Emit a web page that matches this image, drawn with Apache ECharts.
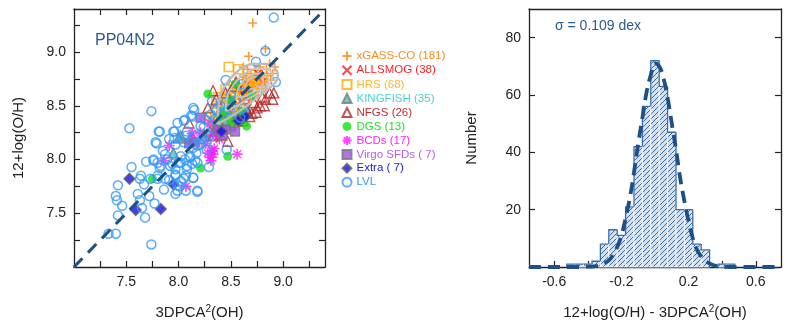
<!DOCTYPE html>
<html>
<head>
<meta charset="utf-8">
<script src="https://cdn.jsdelivr.net/npm/echarts@6/dist/echarts.min.js"></script>
<style>
  html, body { margin: 0; padding: 0; background: #fff; }
  #chart { width: 789px; height: 331px; }
</style>
</head>
<body>
<div id="chart"></div>
<script>
// ---- left panel: PP04N2 vs 3DPCA^2 ----
var xGass = [[8.71,9.27],[8.83,9.03],[8.67,8.96],[8.87,8.89],[8.62,8.86],[8.78,8.86],
  [8.72,8.72],[8.70,8.75],[8.75,8.70],[8.68,8.68],[8.78,8.76],[8.65,8.72],[8.80,8.80],[8.74,8.78],
  [8.66,8.62],[8.60,8.64],[8.58,8.58],[8.62,8.55],[8.55,8.62],[8.52,8.52],[8.50,8.58],[8.48,8.47],
  [8.45,8.52],[8.43,8.42],[8.40,8.45],[8.47,8.40],[8.55,8.48],[8.63,8.68],[8.69,8.80],[8.82,8.72],
  [8.85,8.78],[8.76,8.66],[8.70,8.62],[8.64,8.76],[8.58,8.70],[8.52,8.66],[8.84,8.84],[8.90,8.80],
  [8.88,8.74],[8.80,8.68],[8.73,8.83],[8.60,8.52],[8.68,8.58],[8.56,8.44],[8.50,8.38],[8.42,8.36],
  [8.38,8.40],[8.46,8.60],[8.66,8.84],[8.92,8.86],[8.75,8.60],[8.83,8.66],[8.62,8.78],[8.54,8.72]];
var allsmog = [[8.55,8.50],[8.62,8.60],[8.70,8.58],[8.48,8.42],[8.66,8.70],[8.74,8.68],[8.58,8.66],
  [8.52,8.56],[8.44,8.46],[8.80,8.72],[8.60,8.54],[8.68,8.64],[8.76,8.80],[8.40,8.40],[8.64,8.50]];
var hrs = [[8.48,8.86],[8.57,8.84],[8.35,8.45],[8.38,8.38],[8.42,8.50],[8.45,8.38],[8.40,8.30],
  [8.48,8.55],[8.52,8.45],[8.55,8.40],[8.60,8.48],[8.44,8.58],[8.36,8.52],[8.50,8.30],[8.58,8.60],
  [8.62,8.65],[8.65,8.55],[8.70,8.65],[8.75,8.75],[8.45,8.65],[8.30,8.40],[8.33,8.35],[8.38,8.58],
  [8.55,8.35],[8.68,8.72],[8.80,8.75],[8.72,8.70],[8.66,8.74],[8.42,8.44],[8.52,8.60],[8.47,8.34]];
var kingfish = [[8.02,8.22],[7.95,8.06],[8.11,8.20],[8.00,8.20],[8.14,8.19],[8.45,8.35],[8.55,8.40],
  [8.60,8.42],[8.50,8.32],[8.35,8.30],[8.42,8.28],[8.58,8.36],[8.48,8.44],[8.38,8.36],[8.65,8.46],
  [8.30,8.26],[8.25,8.22]];
var nfgs = [[8.91,8.62],[8.82,8.50],[8.75,8.48],[8.33,8.64],[8.10,8.34],[8.87,8.62],[8.78,8.50],
  [8.70,8.43],[8.33,8.22],[8.40,8.23],[8.47,8.17],[8.52,8.68],[8.72,8.53],[8.83,8.56],[8.60,8.43],
  [8.68,8.40],[8.65,8.47],[8.58,8.38],[8.80,8.58],[8.28,8.48],[8.36,8.56],[8.90,8.56],[8.45,8.62],
  [8.55,8.72],[8.62,8.36],[8.74,8.44]];
var dgs = [[8.28,8.61],[8.65,8.31],[8.47,8.03],[8.21,7.92],[7.75,7.82],[8.45,8.45],[8.50,8.55],
  [8.60,8.45],[8.35,8.30],[8.55,8.70],[8.40,8.40],[8.70,8.60],[8.50,8.35]];
var bcds = [[7.91,8.13],[7.86,7.99],[8.07,7.75],[8.56,8.05],[8.32,8.08],[8.30,8.02],[8.33,8.05],
  [8.28,8.06],[8.31,7.99],[8.34,8.10],[8.21,8.25],[8.33,8.23],[8.30,8.34],[8.39,8.19],[8.26,8.15],
  [8.36,8.28],[8.13,8.24]];
var virgo = [[8.21,8.39],[8.37,8.27],[8.45,8.28],[8.54,8.26],[8.10,8.15],[8.16,8.16],[8.42,8.22]];
var extra = [[7.53,7.82],[7.59,7.53],[7.83,7.54],[7.95,7.77],[8.41,8.26],[8.64,8.40],[8.57,8.36]];
var lvl = [[8.91,9.32],[8.83,9.01],[8.74,8.91],[8.93,8.72],[7.74,8.45],[7.53,8.29],[8.15,8.46],
  [8.32,8.54],[8.31,8.42],[8.45,8.74],[7.82,8.26],[7.96,8.26],[7.99,8.34],[8.06,8.37],[8.12,8.41],
  [8.07,8.22],[7.96,8.20],[7.79,8.15],[7.85,8.08],[8.16,8.22],[8.21,8.31],[8.27,8.17],[8.18,8.13],
  [8.27,8.09],[8.46,8.09],[8.29,7.93],[7.69,7.98],[7.76,7.99],[7.80,7.97],[7.82,7.92],[7.89,8.00],
  [7.94,7.96],[7.97,7.91],[8.02,7.97],[8.06,8.00],[8.11,8.02],[8.13,7.96],[8.08,7.91],[8.18,7.97],
  [7.55,7.93],[7.64,7.85],[7.63,7.82],[7.73,7.82],[7.80,7.82],[7.91,7.81],[7.97,7.86],[8.02,7.80],
  [8.07,7.85],[8.14,7.83],[8.01,7.75],[7.97,7.68],[7.99,7.71],[8.18,7.70],[7.86,7.72],[7.67,7.77],
  [7.42,7.76],[7.61,7.68],[7.72,7.66],[7.40,7.66],[7.41,7.62],[7.46,7.57],[7.63,7.62],[7.77,7.59],
  [7.65,7.55],[7.68,7.46],[7.42,7.48],[7.33,7.31],[7.40,7.31],[7.74,7.21],[7.81,8.26],[7.78,8.16],
  [8.05,8.36],[8.13,8.40],[8.14,8.48],[7.95,8.26],[8.08,8.26],[7.91,8.19],[7.97,8.14],[8.05,8.16],
  [8.14,8.11],[8.21,8.14],[8.23,8.19],[8.29,8.22],[7.87,8.05],[8.02,8.03],[8.11,8.03],[8.17,8.06],
  [7.76,8.00],[7.83,7.94],[7.92,7.94],[8.00,7.97],[8.08,7.94],[8.16,7.99],[7.80,7.85],[7.87,7.82],
  [7.97,7.85],[8.05,7.82],[8.14,7.83],[7.99,7.76],[8.07,7.71],[8.18,7.71],[8.41,8.43],[8.49,8.46],
  [8.59,8.39],[8.62,8.48],[8.45,8.53],[8.50,8.60],[8.40,8.50],[8.55,8.55],[8.65,8.60],[8.36,8.46],
  [8.60,8.70],[8.24,8.30],[8.26,8.37],[8.35,8.38]];
var oneToOne = [[7.0,7.0],[9.4,9.4]];
var contour1 = [[8.37,8.33],[8.38,8.47],[8.40,8.60],[8.46,8.71],[8.53,8.79],[8.62,8.86],[8.72,8.89],
  [8.84,8.89],[8.93,8.84],[8.95,8.77],[8.91,8.70],[8.82,8.63],[8.72,8.55],[8.61,8.47],[8.50,8.40],[8.37,8.33]];
var contour2 = [[8.45,8.45],[8.47,8.60],[8.53,8.70],[8.62,8.79],[8.73,8.84],[8.84,8.84],[8.90,8.78],
  [8.87,8.70],[8.78,8.63],[8.66,8.56],[8.54,8.49],[8.45,8.45]];
var contour3 = [[8.55,8.58],[8.58,8.68],[8.65,8.76],[8.75,8.80],[8.84,8.79],[8.86,8.73],[8.80,8.67],
  [8.70,8.62],[8.60,8.58],[8.55,8.58]];
var contour4 = [[8.63,8.67],[8.67,8.74],[8.74,8.77],[8.81,8.76],[8.81,8.71],[8.74,8.67],[8.66,8.65],[8.63,8.67]];
var contour5 = [[8.68,8.70],[8.72,8.74],[8.77,8.74],[8.77,8.71],[8.72,8.69],[8.68,8.70]];
var ohTicks = [7.25,7.5,7.75,8.0,8.25,8.5,8.75,9.0,9.25];
var ohLabels = [7.5,8.0,8.5,9.0];

// ---- right panel: residual histogram ----
var binWidth = 0.05;
var histCenters = [-0.5,-0.45,-0.4,-0.35,-0.3,-0.25,-0.2,-0.15,-0.1,-0.05,0,0.05,0.1,0.15,0.2,0.25,0.3,0.4,0.45];
var histCounts  = [1,1,1,2,8,13,11,21,42,56,72,63,47,20,20,8,6,1,1];
var fitX = [-0.75,-0.45,-0.4,-0.35,-0.3,-0.275,-0.25,-0.225,-0.2,-0.175,-0.15,-0.125,-0.1,-0.075,-0.05,-0.025,
  0,0.025,0.05,0.075,0.1,0.125,0.15,0.175,0.2,0.225,0.25,0.275,0.3,0.35,0.4,0.45,0.75];
var fitY = [0,0,0.1,0.3,1.3,2.3,4.1,7,11,17,24,33,43,52,61,67,71,70,66,59,50,41,31,23,16,10,6,3.7,2.1,0.6,0.1,0,0];
var resTicks = [-0.6,-0.4,-0.2,0,0.2,0.4,0.6];
var resLabels = [-0.6,-0.2,0.2,0.6];
var countTicks = [20,40,60,80];

var font = 'Liberation Sans, Arial, sans-serif';
var ink = '#222';
var navy = '#1d5086';

// hatch fill for the histogram
var tile = document.createElement('canvas');
tile.width = 5; tile.height = 5;
var tc = tile.getContext('2d');
tc.fillStyle = '#d3e0ef';
tc.fillRect(0, 0, 5, 5);
tc.strokeStyle = '#2f5f95';
tc.lineWidth = 0.9;
tc.beginPath();
tc.moveTo(-1, 6); tc.lineTo(6, -1);
tc.moveTo(-1, 1); tc.lineTo(1, -1);
tc.moveTo(4, 6); tc.lineTo(6, 4);
tc.stroke();

function oneDecimal(v) { return Number(v).toFixed(1); }

function frameAxis(grid, pos, min, max, ticks, labels, extra) {
  var a = {
    gridIndex: grid, type: 'value', position: pos, min: min, max: max,
    axisLine: { show: true, onZero: false, lineStyle: { color: ink, width: 1.3 } },
    axisTick: { show: !!ticks, inside: true, length: 6, customValues: ticks || [], lineStyle: { color: ink, width: 1.2 } },
    axisLabel: { show: !!labels, customValues: labels || [], color: ink, fontFamily: font, fontSize: 14 },
    splitLine: { show: false }
  };
  return Object.assign(a, extra || {});
}

var nameStyle = { color: ink, fontFamily: font, fontSize: 15, rich: { sup: { fontSize: 10, verticalAlign: 'top', padding: [0, 0, 8, 0], color: ink, fontFamily: font } } };

function pts(name, data, symbol, size, style) {
  return { name: name, type: 'scatter', xAxisIndex: 0, yAxisIndex: 0, data: data, symbol: symbol, symbolSize: size, itemStyle: style, z: 3 };
}

var plusPath = 'path://M5,0L5,10M0,5L10,5';
var crossPath = 'path://M0,0L10,10M10,0L0,10';
var starPath = 'path://M5,0L5,10M0,5L10,5M1.5,1.5L8.5,8.5M8.5,1.5L1.5,8.5';

var legendItems = [
  { name: 'xGASS-CO (181)', textStyle: { color: '#ff8a1c' } },
  { name: 'ALLSMOG (38)', textStyle: { color: '#ff2222' } },
  { name: 'HRS (68)', textStyle: { color: '#ffb52e' } },
  { name: 'KINGFISH (35)', textStyle: { color: '#4fd0d0' } },
  { name: 'NFGS (26)', textStyle: { color: '#bf2f2f' } },
  { name: 'DGS (13)', textStyle: { color: '#22e022' } },
  { name: 'BCDs (17)', textStyle: { color: '#ff22ff' } },
  { name: 'Virgo SFDs ( 7)', textStyle: { color: '#b060f0' } },
  { name: 'Extra ( 7)', textStyle: { color: '#2020e0' } },
  { name: 'LVL', textStyle: { color: '#3399ff' } }
];

var myChart = echarts.init(document.getElementById('chart'));
myChart.setOption({
  animation: false,
  backgroundColor: '#fff',
  grid: [
    { left: 74, right: 464, top: 9, bottom: 64 },
    { left: 529, right: 8, top: 9, bottom: 64 }
  ],
  xAxis: [
    frameAxis(0, 'bottom', 7.0, 9.4, ohTicks, ohLabels, {
      name: '3DPCA{sup|2}(OH)', nameLocation: 'middle', nameGap: 37, nameTextStyle: nameStyle
    }),
    frameAxis(0, 'top', 7.0, 9.4, ohTicks, null),
    frameAxis(1, 'bottom', -0.75, 0.75, resTicks, resLabels, {
      name: '12+log(O/H) - 3DPCA{sup|2}(OH)', nameLocation: 'middle', nameGap: 37, nameTextStyle: nameStyle
    }),
    frameAxis(1, 'top', -0.75, 0.75, null, null)
  ],
  yAxis: [
    frameAxis(0, 'left', 7.0, 9.4, ohTicks, ohLabels, {
      name: '12+log(O/H)', nameLocation: 'middle', nameGap: 48, nameTextStyle: nameStyle
    }),
    frameAxis(0, 'right', 7.0, 9.4, ohTicks, null),
    frameAxis(1, 'left', 0, 90, countTicks, countTicks, {
      name: 'Number', nameLocation: 'middle', nameGap: 50, nameTextStyle: nameStyle
    }),
    frameAxis(1, 'right', 0, 90, countTicks, null)
  ],
  legend: {
    orient: 'vertical', left: 335, top: 44, itemWidth: 9, itemHeight: 9, itemGap: 0.2,
    textStyle: { fontFamily: font, fontSize: 11.5, lineHeight: 13.6, padding: 0 }, data: legendItems, selectedMode: false
  },
  graphic: [
    { type: 'text', left: 95, top: 33, style: { text: 'PP04N2', fill: '#2b5c8e', font: '16px ' + font } },
    { type: 'text', left: 555, top: 19, style: { text: 'σ = 0.109 dex', fill: '#2b5c8e', font: '14px ' + font } }
  ],
  series: [
    pts('xGASS-CO (181)', xGass, plusPath, 9, { color: 'none', borderColor: '#ff8000', borderWidth: 1.6 }),
    pts('ALLSMOG (38)', allsmog, crossPath, 8, { color: 'none', borderColor: '#ff1a1a', borderWidth: 1.6 }),
    pts('HRS (68)', hrs, 'rect', 9, { color: 'none', borderColor: '#ffaa00', borderWidth: 1.6 }),
    pts('KINGFISH (35)', kingfish, 'triangle', 10, { color: '#3ec4c4', borderColor: '#777', borderWidth: 1.4 }),
    pts('NFGS (26)', nfgs, 'triangle', 10, { color: 'none', borderColor: '#b52525', borderWidth: 1.4 }),
    pts('DGS (13)', dgs, 'circle', 9, { color: '#11e011' }),
    pts('BCDs (17)', bcds, starPath, 11, { color: 'none', borderColor: '#ff1aff', borderWidth: 1.6 }),
    pts('Virgo SFDs ( 7)', virgo, 'rect', 9, { color: '#a050e6', borderColor: '#777', borderWidth: 1.3 }),
    pts('Extra ( 7)', extra, 'diamond', 11, { color: '#1010e6', borderColor: '#666', borderWidth: 1.4 }),
    pts('LVL', lvl, 'circle', 9, { color: 'none', borderColor: '#3399ff', borderWidth: 1.5 }),
    { type: 'line', xAxisIndex: 0, yAxisIndex: 0, data: contour1, smooth: 0.4, symbol: 'none', z: 4, lineStyle: { color: '#bcbcbc', width: 2.4 } },
    { type: 'line', xAxisIndex: 0, yAxisIndex: 0, data: contour2, smooth: 0.4, symbol: 'none', z: 4, lineStyle: { color: '#c4c4c4', width: 1.8 } },
    { type: 'line', xAxisIndex: 0, yAxisIndex: 0, data: contour3, smooth: 0.4, symbol: 'none', z: 4, lineStyle: { color: '#c4c4c4', width: 1.8 } },
    { type: 'line', xAxisIndex: 0, yAxisIndex: 0, data: contour4, smooth: 0.4, symbol: 'none', z: 4, lineStyle: { color: '#c4c4c4', width: 1.8 } },
    { type: 'line', xAxisIndex: 0, yAxisIndex: 0, data: contour5, smooth: 0.4, symbol: 'none', z: 4, lineStyle: { color: '#ffaa22', width: 1.5 } },
    { type: 'line', xAxisIndex: 0, yAxisIndex: 0, data: oneToOne, symbol: 'none', z: 5, lineStyle: { color: navy, width: 3, type: [12, 8] } },
    {
      type: 'custom', xAxisIndex: 2, yAxisIndex: 2, z: 2,
      data: histCenters.map(function (c, i) { return [c, histCounts[i]]; }),
      renderItem: function (params, api) {
        var i = params.dataIndex;
        var c = api.value(0), n = api.value(1);
        var tl = api.coord([c - binWidth / 2, n]);
        var br = api.coord([c + binWidth / 2, 0]);
        var prev = (i > 0 && Math.abs(histCenters[i - 1] - (c - binWidth)) < 1e-6) ? histCounts[i - 1] : 0;
        var next = (i < histCenters.length - 1 && Math.abs(histCenters[i + 1] - (c + binWidth)) < 1e-6) ? histCounts[i + 1] : 0;
        var yPrev = api.coord([c, prev])[1];
        var outline = [[tl[0], yPrev], [tl[0], tl[1]], [br[0], tl[1]]];
        if (next === 0) outline.push([br[0], br[1]]);
        return {
          type: 'group',
          children: [
            { type: 'rect', shape: { x: tl[0], y: tl[1], width: br[0] - tl[0], height: br[1] - tl[1] },
              style: { fill: { image: tile, repeat: 'repeat' }, stroke: '#fff', lineWidth: 0.8 } },
            { type: 'polyline', shape: { points: outline }, style: { fill: null, stroke: '#3a6ea8', lineWidth: 1.3 } }
          ]
        };
      }
    },
    { type: 'line', xAxisIndex: 2, yAxisIndex: 2, data: fitX.map(function (x, i) { return [x, fitY[i]]; }),
      smooth: true, symbol: 'none', z: 5, lineStyle: { color: navy, width: 3.8, type: [12, 7] } }
  ]
});
// label formats: one decimal on the abundance and residual axes
myChart.setOption({
  xAxis: [{ axisLabel: { formatter: oneDecimal } }, {}, { axisLabel: { formatter: oneDecimal } }, {}],
  yAxis: [{ axisLabel: { formatter: oneDecimal } }, {}, {}, {}]
});
</script>
</body>
</html>
